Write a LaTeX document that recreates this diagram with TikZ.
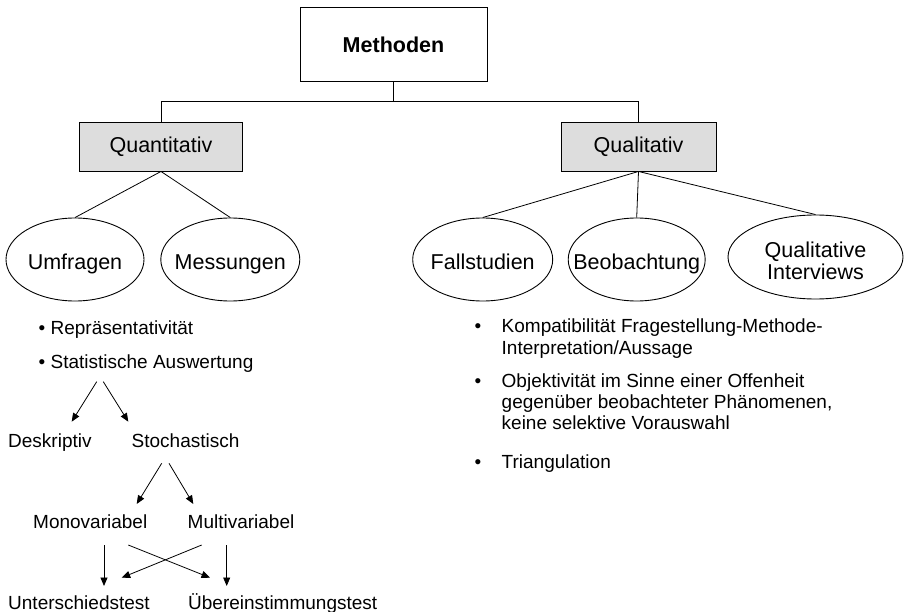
\documentclass[tikz,border=0pt]{standalone}
\usepackage{fontspec}
\setmainfont{Liberation Sans}
\usetikzlibrary{shapes.geometric,arrows.meta}
\definecolor{boxgray}{RGB}{221,221,221}
\begin{document}
\begin{tikzpicture}[x=1pt,y=-1pt,
  big/.style={font=\fontsize{21.5}{22}\selectfont},
  boxnode/.style={draw, line width=0.9pt, rectangle, inner sep=0pt, big},
  ellnode/.style={draw, ellipse, inner sep=0pt, big, line width=0.9pt, text height=20pt, text depth=0pt},
  conn/.style={line width=0.8pt},
  arr/.style={line width=0.8pt, -{Triangle[length=8.5pt,width=7pt]}},
  txt/.style={font=\fontsize{19}{22}\selectfont, anchor=base west, inner sep=0pt}]
\useasboundingbox (0,0) rectangle (904,612);

% top level
\node[boxnode, minimum width=187pt, minimum height=74pt, font=\fontsize{21.5}{23}\selectfont\bfseries, text height=18pt, text depth=0pt] (meth) at (393.5,44) {Methoden};
\node[boxnode, fill=boxgray, minimum width=163pt, minimum height=49pt] (quant) at (161,146.5) {Quantitativ};
\node[boxnode, fill=boxgray, minimum width=155pt, minimum height=49pt] (qual) at (638.5,146.5) {Qualitativ};

% ellipses
\node[ellnode, minimum width=138pt, minimum height=83pt] (umf) at (75,259.5) {\makebox[0pt]{Umfragen}};
\node[ellnode, minimum width=139pt, minimum height=83pt] (mess) at (230.3,259.5) {\makebox[0pt]{Messungen}};
\node[ellnode, minimum width=140pt, minimum height=83pt] (fall) at (482.7,259.5) {\makebox[0pt]{Fallstudien}};
\node[ellnode, minimum width=137pt, minimum height=83pt] (beob) at (636.7,259.5) {\makebox[0pt]{Beobachtung}};
\node[ellnode, minimum width=175pt, minimum height=84pt, text height=10pt, text depth=9pt] (qi) at (815.5,257) {\makebox[0pt]{\begin{tabular}[t]{@{}c@{}}Qualitative\\Interviews\end{tabular}}};

% tree connectors
\coordinate (junc) at (393.5,101);
\draw[conn] (meth.south) -- (junc);
\draw[conn] (junc) -| (quant.north);
\draw[conn] (junc) -| (qual.north);
\draw[conn] (quant.south) -- (umf.north);
\draw[conn] (quant.south) -- (mess.north);
\draw[conn] (qual.south) -- (fall.north);
\draw[conn] (qual.south) -- (beob.north);
\draw[conn] (qual.south) -- (qi.north);

% left texts
\node[txt] (rep) at (38.5,334) {• Repräsentativität};
\node[txt] (stat) at (38.5,368) {• Statistische Auswertung};
\node[txt] (desk) at (8,447) {Deskriptiv};
\node[txt] (stoch) at (131.5,447) {Stochastisch};
\node[txt] (mono) at (33,528.5) {Monovariabel};
\node[txt] (multi) at (187.5,528.5) {Multivariabel};
\node[txt] (unter) at (8,609) {Unterschiedstest};
\node[txt] (ueber) at (188,609) {Übereinstimmungstest};

% left arrows
\coordinate (a1s) at (96.7,381.7);  \coordinate (a1e) at (71.7,421.7);
\coordinate (a2s) at (103.3,381.7); \coordinate (a2e) at (128.3,421.7);
\coordinate (b1s) at (161.7,463.3); \coordinate (b1e) at (136.7,504);
\coordinate (b2s) at (169,463.3);   \coordinate (b2e) at (193.3,504);
\coordinate (c1s) at (104,545);     \coordinate (c1e) at (104,586);
\coordinate (c2s) at (128.3,545);   \coordinate (c2e) at (210,577.7);
\coordinate (c3s) at (201.7,545);   \coordinate (c3e) at (121.7,577.7);
\coordinate (c4s) at (226.7,545);   \coordinate (c4e) at (226.7,586);
\draw[arr] (a1s) -- (a1e);
\draw[arr] (a2s) -- (a2e);
\draw[arr] (b1s) -- (b1e);
\draw[arr] (b2s) -- (b2e);
\draw[arr] (c1s) -- (c1e);
\draw[arr] (c2s) -- (c2e);
\draw[arr] (c3s) -- (c3e);
\draw[arr] (c4s) -- (c4e);

% right bullets
\node[txt] (bu1) at (474.5,332) {•};
\node[txt] (k1) at (501.5,332) {Kompatibilität Fragestellung-Methode-};
\node[txt] (k2) at (501.5,354.5) {Interpretation/Aussage};
\node[txt] (bu2) at (474.5,387) {•};
\node[txt] (o1) at (501.5,387) {Objektivität im Sinne einer Offenheit};
\node[txt] (o2) at (501.5,408) {gegenüber beobachteter Phänomenen,};
\node[txt] (o3) at (501.5,429) {keine selektive Vorauswahl};
\node[txt] (bu3) at (474.5,468) {•};
\node[txt] (t1) at (501.5,468) {Triangulation};
\end{tikzpicture}
\end{document}
